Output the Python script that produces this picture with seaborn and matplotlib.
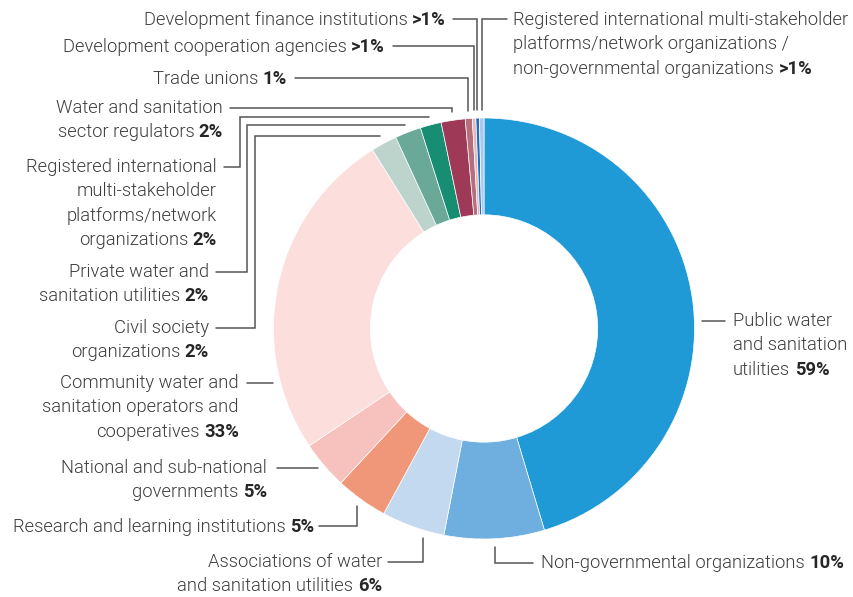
import numpy as np
import matplotlib
matplotlib.use('Agg')
import matplotlib.pyplot as plt
from matplotlib.transforms import IdentityTransform
from matplotlib.lines import Line2D
import seaborn as sns

# categories clockwise from 12 o'clock
categories = [
    'Public water and sanitation utilities',
    'Non-governmental organizations',
    'Associations of water and sanitation utilities',
    'Research and learning institutions',
    'National and sub-national governments',
    'Community water and sanitation operators and cooperatives',
    'Civil society organizations',
    'Private water and sanitation utilities',
    'Registered international multi-stakeholder platforms/network organizations',
    'Water and sanitation sector regulators',
    'Trade unions',
    'Development cooperation agencies',
    'Development finance institutions',
    'Registered international multi-stakeholder platforms/network organizations / non-governmental organizations',
]
# shares
shares = [59, 10, 6.3, 5.2, 4.8, 33.2, 2.6, 2.6, 2.1, 2.4, 0.7, 0.35, 0.35, 0.45]
pct_text = ['59%', '10%', '6%', '5%', '5%', '33%', '2%', '2%', '2%', '2%',
            '1%', '>1%', '>1%', '>1%']
label_lines = [
    ['Public water', 'and sanitation', 'utilities'],
    ['Non-governmental organizations'],
    ['Associations of water', 'and sanitation utilities'],
    ['Research and learning institutions'],
    ['National and sub-national', 'governments'],
    ['Community water and', 'sanitation operators and', 'cooperatives'],
    ['Civil society', 'organizations'],
    ['Private water and', 'sanitation utilities'],
    ['Registered international', 'multi-stakeholder', 'platforms/network', 'organizations'],
    ['Water and sanitation', 'sector regulators'],
    ['Trade unions'],
    ['Development cooperation agencies'],
    ['Development finance institutions'],
    ['Registered international multi-stakeholder',
     'platforms/network organizations /', 'non-governmental organizations'],
]
colors = ['#1f9ad6', '#6fafe0', '#c2d9f0', '#f0977a', '#f7c1be', '#fcdedd',
          '#bcd4cc', '#6aa897', '#178d72', '#9e3a58', '#b56e7c', '#e8b5bb',
          '#1f6fbf', '#a9c8ea']

# layout (pixels from top-left): text x, first line y, align,
# leader start x, leader y, route, extra
layout = [
    (733, 321, 'left', 725, 321, 'h', None),
    (541, 563, 'left', 533, 563, 'v', 0.5),
    (382, 562, 'right', 388, 562, 'v', 0.3),
    (314, 527, 'right', 319, 526, 'v', 0.5),
    (267, 468, 'right', 277, 468, 'h', None),
    (239, 383, 'right', 247, 383, 'h', None),
    (209, 328, 'right', 216, 328, 'lane', 255),
    (209, 272, 'right', 216, 272, 'lane', 247),
    (217, 167, 'right', 224, 167, 'lane', 240),
    (223, 108, 'right', 230, 108, 'v', 0.5),
    (287, 79, 'right', 295, 78, 'v', 0.5),
    (385, 47, 'right', 393, 46, 'v', 0.5),
    (446, 20, 'right', 453, 19, 'v', 0.5),
    (513, 20, 'left', 507, 19, 'v', 0.5),
]

W, H = 854, 597
CX, CY, R = 484, 328.5, 210.5
LINE_STEP = 24.3
FS = 13.2

sns.set_theme(style='white')
plt.rcParams['font.family'] = ['Roboto', 'DejaVu Sans']
palette = sns.color_palette(colors)

fig = plt.figure(figsize=(W / 100, H / 100), dpi=100)
ax = fig.add_axes([(CX - R) / W, (H - CY - R) / H, 2 * R / W, 2 * R / H])
wedges, _ = ax.pie(shares, colors=palette, startangle=90, counterclock=False,
                   radius=1, wedgeprops=dict(width=0.46, edgecolor='white',
                                             linewidth=0.5))
for w in wedges:
    w.set_clip_on(False)
ax.set_xlim(-1, 1)
ax.set_ylim(-1, 1)
ax.set_aspect('equal')
ax.axis('off')

fig.canvas.draw()
renderer = fig.canvas.get_renderer()
ident = IdentityTransform()


def to_disp(x, y):
    return x, H - y


def wedge_point(w, frac, gap=8):
    ang = np.deg2rad(w.theta2 - frac * (w.theta2 - w.theta1))
    r = 1 + gap / R
    x, y = ax.transData.transform((r * np.cos(ang), r * np.sin(ang)))
    return x, H - y


def ring_x(y, side, gap=8):
    c = ax.transData.transform((0, 0))
    rr = ax.transData.transform((1, 0))[0] - c[0]
    cx, cy = c[0], H - c[1]
    dx = np.sqrt(max(rr ** 2 - (y - cy) ** 2, 0))
    return cx - dx - gap if side == 'left' else cx + dx + gap


def add_path(pts):
    xs = [p[0] for p in pts]
    ys = [H - p[1] for p in pts]
    fig.add_artist(Line2D(xs, ys, transform=ident, color='#555555', lw=1.1,
                          solid_joinstyle='miter'))


def add_text(x, y, s, ha, bold=False):
    return fig.text(*to_disp(x, y), s, transform=ident, ha=ha, va='center',
                    fontsize=FS, fontweight='bold' if bold else 300,
                    color='#262626' if bold else '#3c3c3c')


SP = 4.5
for w, lines, pct, (tx, ty, ha, lx, ly, route, extra) in zip(
        wedges, label_lines, pct_text, layout):
    for i, line in enumerate(lines[:-1]):
        add_text(tx, ty + i * LINE_STEP, line, ha)
    yl = ty + (len(lines) - 1) * LINE_STEP
    if ha == 'right':
        b = add_text(tx, yl, pct, 'right', bold=True)
        wb = b.get_window_extent(renderer).width
        add_text(tx - wb - SP, yl, lines[-1], 'right')
    else:
        t = add_text(tx, yl, lines[-1], 'left')
        wt = t.get_window_extent(renderer).width
        add_text(tx + wt + SP, yl, pct, 'left', bold=True)

    if route == 'h':
        side = 'right' if ha == 'left' else 'left'
        add_path([(lx, ly), (ring_x(ly, side), ly)])
    elif route == 'v':
        ax_, ay_ = wedge_point(w, extra)
        add_path([(lx, ly), (ax_, ly), (ax_, ay_)])
    else:
        ax_, ay_ = wedge_point(w, 0.5)
        add_path([(lx, ly), (extra, ly), (extra, ay_), (ax_, ay_)])

fig.savefig('out.png', dpi=100, facecolor='white')
